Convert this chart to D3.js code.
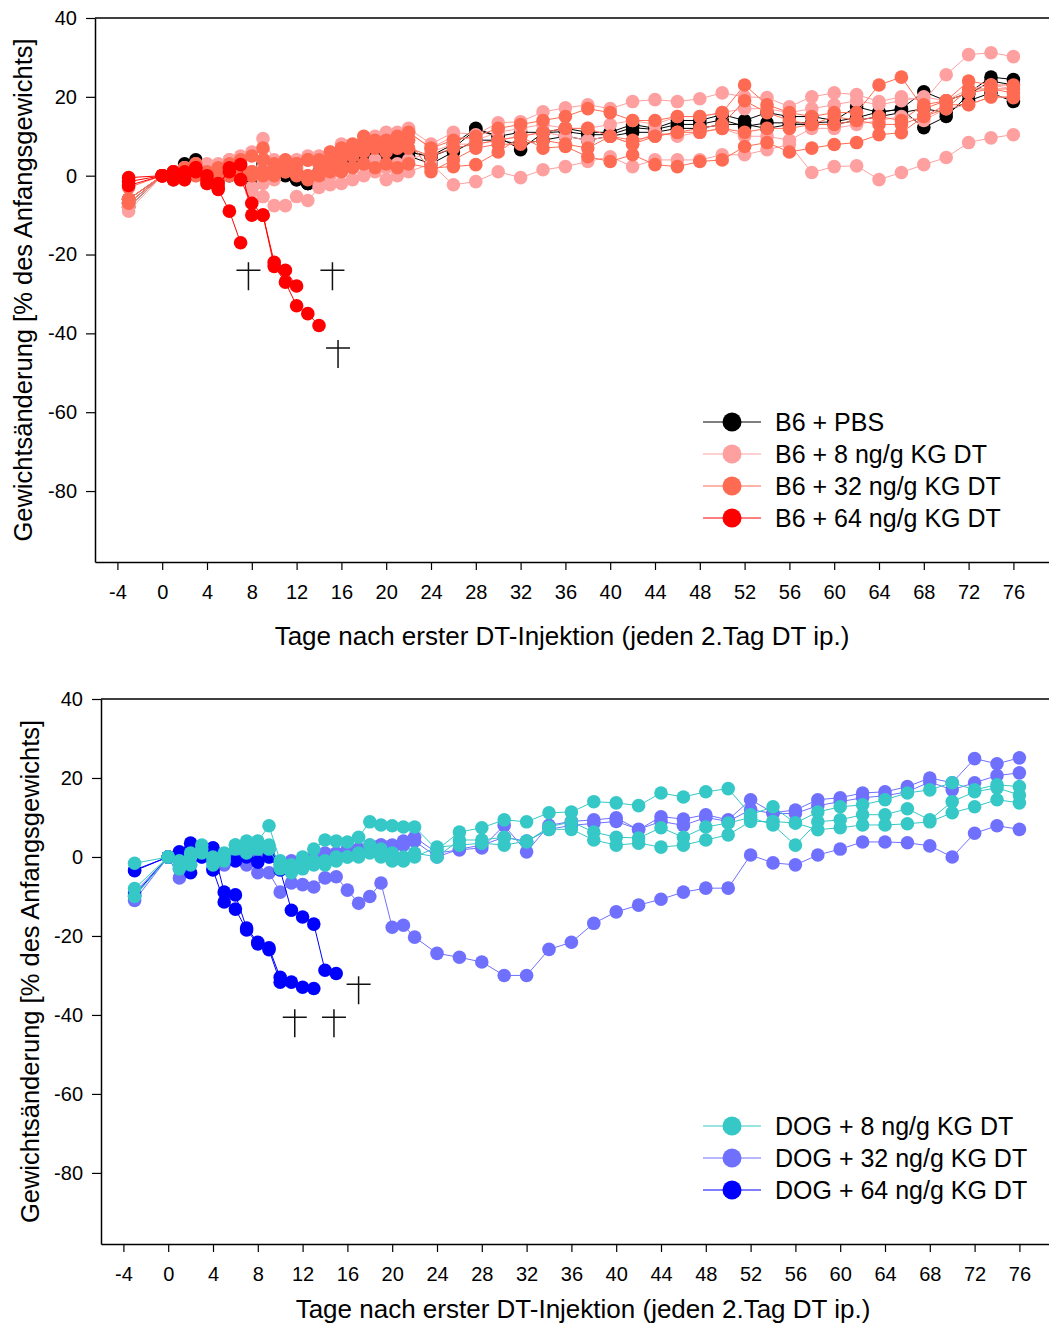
<!DOCTYPE html>
<html>
<head>
<meta charset="utf-8">
<script src="https://cdn.jsdelivr.net/npm/d3@7"></script>
<style>
  body { margin: 0; background: #fff; }
  svg { display: block; font-family: Arial, 'Liberation Sans', sans-serif; }
</style>
</head>
<body>
<svg width="1049" height="1324"></svg>
<script>
'use strict';

// measurement days: day -3, daily 0..22, then every 2nd day up to 76
const days = [-3,
  0, 1, 2, 3, 4, 5, 6, 7, 8, 9,
  10, 11, 12, 13, 14, 15, 16, 17, 18, 19, 20, 21, 22,
  24, 26, 28, 30, 32, 34, 36, 38, 40, 42, 44, 46, 48, 50,
  52, 54, 56, 58, 60, 62, 64, 66, 68, 70, 72, 74, 76];

const x_ticks = [-4, 0, 4, 8, 12, 16, 20, 24, 28, 32, 36, 40, 44, 48, 52, 56, 60, 64, 68, 72, 76];
const y_ticks = [40, 20, 0, -20, -40, -60, -80];

// weight change in % per mouse (one array per mouse, aligned with days)
const b6_pbs = [
  [-8, 0, 1, 2, 4, 1, 0, 1, 2, -2, 3,
   1, 2, 0, -2, 1, 5, 5, 4, 5, 5, 5, 6, 6,
   5, 8, 12, 10, 11, 11, 12, 11, 11, 13, 12, 14, 14, 15.5,
   14, 16, 15, 15, 14, 17.5, 16, 17, 21.3, 19, 21, 25, 24.4],
  [-7, 0, 0, 3, 3, 2, 1, 0, 1, -3, 2,
   0, 1, -1, -2, -1, 2, 3, 3, 4, 5, 4, 5, 6,
   4.8, 7, 11.7, 9.9, 6.6, 10.9, 11.2, 10.4, 10.4, 12.2, 11.7, 13, 13, 14.2,
   12.5, 13.4, 13.4, 13.4, 13.7, 14.7, 16.2, 16.8, 12.2, 15, 20.6, 24, 23],
  [-6, 0, -1, 1, 2, 0, -1, 1, 0, -2, 1,
   0, 0, -1, -2, 0, 1, 2, 3, 3, 4, 4, 5, 5,
   3, 6, 9, 9, 8, 9, 10, 9, 10, 11, 11, 12, 12, 13,
   13, 12, 13, 13, 13, 14, 15, 16, 17, 16, 19, 21, 18.8]
];

const b6_dt8 = [
  [-9, 0, 1, 2, 2, 3, 2, 4, 5, 6, 9.4,
   4, 3, 4, 5, 5, 6, 8, 7, 9, 10, 11, 11, 12,
   8, 11, 10.4, 13.4, 13.7, 16.2, 17.2, 18, 17, 18.8, 19.3, 18.8, 19.5, 21,
   20, 19.8, 17.5, 20, 21, 20.6, 18.8, 20, 19, 25.6, 30.7, 31.2, 30.2],
  [-8, 0, -1, 1, 0, -1, 0, 1, 0, -3, -5.3,
   -7.6, -7.6, -5.3, -6.3, -3, -2.3, -2, -1, 0, 1, -1, 0, 1,
   3, -2.3, -1.5, 1, -0.5, 1.5, 2.3, 3.6, 4.8, 2.3, 4, 4, 4, 5.3,
   5.3, 6.6, 7.9, 0.8, 2.3, 2.5, -1, 0.8, 2.8, 4.6, 8.4, 9.6, 10.4],
  [-7, 0, 0, 2, 3, 1, 3, 4, 3, 1, 2,
   2, 3, 2, 4, 3, 5, 6, 5, 8, 9, 9, 10, 11,
   7, 10, 9, 11, 12, 13, 12, 12, 13, 14, 13, 15, 15, 16,
   17, 17, 16, 17, 18, 19, 18, 19, 20, 19, 22, 23, 22],
  [-6, 0, 1, 1, 2, 0, 1, 2, -1, -4, -2,
   -1, 1, 2, 0, -2, 0, 1, 2, 3, 4, 2, 3, 4,
   6, 8, 8, 9, 10, 11, 10, 9, 10, 8, 11, 10, 11, 12,
   10, 10, 9, 12, 12, 13, 14, 15, 14, 17, 18, 20, 20]
];

const b6_dt32 = [
  [-6, 0, 1, 2, 3, 1, 2, 3, 4, 5, 7,
   3, 4, 3, 4, 4, 6, 7, 8, 10, 9, 9, 10, 11,
   7, 9, 10, 12, 13, 14, 15, 17, 16, 14, 14, 15, 15, 16,
   23, 18, 16, 15, 16, 16, 23, 25, 17, 19, 24, 23, 23],
  [-7, 0, 0, 1, 2, 0, 1, 2, 1, 0, 1,
   1, 2, 1, 0, 1, 2, 3, 5, 6, 7, 6, 7, 7,
   5, 7, 8, 9, 10, 11, 12, 12, 10, 9, 10, 11, 12, 13,
   19, 16, 14, 13, 15, 14, 13, 13, 15, 17, 22, 22, 22],
  [-3, 0, 1, -1, 0, -1, 0, 1, 2, 1, 0,
   0, 1, 0, -1, 0, 1, 1, 2, 3, 2, 3, 2, 3,
   2, 2.3, 2.8, 6, 9.9, 7, 7.4, 4.8, 3.6, 5.3, 2.8, 2.3, 3.6, 4,
   7.4, 8.4, 6, 7, 7.9, 8.4, 10.4, 10.9, 15, 18, 18, 20, 19.8],
  [-6, 0, 0, 1, 1, -2, -1, 0, 2, 0, 4,
   2, 2, 3, 4, 3, 4, 5, 6, 8, 8, 7, 8, 9,
   1, 4, 7, 8, 8, 9, 8, 7, 10, 8, 10, 11, 11, 12,
   11, 12, 12, 13, 13, 14, 15, 14, 18, 19, 21, 22, 21]
];

const b6_dt64 = [
  [-0.5, 0, -1, 1, 2, -2, -3.5, -9, -17],
  [-1.5, 0, 0, -1, 1, -1, -2, 1, -1, -7, -10, -22, -24, -28],
  [-2.5, 0, 1, 0, 2, 0, -3, 2, 2.8, -10, -10, -23, -27, -33, -35, -38]
];

const dog_dt8 = [
  [-1.6, 0, -2, 1, 3, -1, 0, 3, 4, 4, 7.9,
   -1, -2, 0, 2, 4.3, 4, 3.8, 5, 8.9, 8.1, 7.9, 7.6, 7.6,
   1.8, 6.3, 7.4, 9.4, 8.9, 11.2, 11.4, 14, 13.7, 13, 16.2, 15.2, 16.5, 17.3,
   10.7, 12.7, 8.6, 11.4, 12.7, 13.2, 14.5, 16.2, 17, 18.8, 17, 18.3, 17.8],
  [-8, 0, -1, 0, 2, 0, 1, 3, 3, 2, 3,
   -2, -3, -1, -1, -2, 0, 0, 1, 3, 2, 1, 0, 1,
   0, 4.3, 4.3, 5, 3.8, 7.6, 8.9, 6.3, 5, 4.8, 7.4, 5, 7.6, 8.6,
   10, 8.1, 3, 8.9, 9.4, 10.7, 10.7, 12.2, 9.4, 14, 16.5, 17.5, 15.7],
  [-10, 0, -3, -2, 1, -2, -1, 2, 1, 3, 2,
   -3, -4, -3, -2, -1, -1, 0, 0, 1, 0, -1, -1, 0,
   2.5, 3, 3.5, 3, 4, 7, 7, 4.3, 3, 3.5, 2.5, 3, 4.3, 5.6,
   9, 9, 8.6, 6.9, 7.4, 8.1, 8.1, 8.4, 8.9, 11.2, 12.7, 14.5, 13.7]
];

const dog_dt32 = [
  [-11, 0, -5.3, -2, 0, -3, -2, 0, -2, -4, -4,
   -8.9, -6.6, -7, -7.6, -5.3, -5, -8.4, -11.7, -10, -6.6, -17.8, -17.3, -20.3,
   -24.4, -25.4, -26.6, -30, -30, -23.4, -21.6, -16.8, -13.9, -12.2, -10.7, -8.9, -7.9, -7.9,
   0.5, -1.5, -2, 0.5, 2, 3.8, 3.8, 3.6, 2.8, 0, 6, 7.9, 7],
  [-10, 0, -3, 1, 2, -1, 0, 2, 1, 0, 2,
   -2, -1, -1, 0, 1, 1, 2, 2, 3, 3, 3, 4, 5,
   1, 1.8, 2.3, 8, 1.3, 8, 9, 9.4, 9.9, 6.9, 10.2, 9.6, 10.7, 9.4,
   14.5, 11.2, 11.9, 14.5, 15, 16.2, 16.5, 17.8, 20, 18.8, 24.9, 23.6, 25.1],
  [-9, 0, -2, 0, 1, -3, -1, 1, 0, -1, 0,
   -3, -2, -2, -1, 0, 0, 1, 2, 2, 3, 2, 3, 4,
   0, 2, 3, 5, 4, 7, 8, 8.5, 9, 7, 9, 8, 10, 9,
   12, 11, 11, 13, 14, 15, 15.5, 16.5, 19, 17, 18.8, 20.6, 21.3]
];

const dog_dt64 = [
  [-3.3, 0, 1.3, 3.5, 1, 2.3, -8.9, -9.6, -18, -21.6, -23, -30.5, -31.7, -33, -33.3],
  [-9.6, 0, 0, -4, 2, -3.3, -11.4, -13.2, -18.5, -22, -23.5, -31.7],
  [-3.5, 0, 0, 2, 0, 1, 0, -1, 0, -1.3, 0, -3.3, -13.5, -15.2, -17, -28.7, -29.5]
];

// deaths (day, %)
const top_deaths = [[7.7, -24], [15.2, -24], [15.7, -43.7]];
const bottom_deaths = [[11.3, -40.6], [14.8, -40.6], [17, -32.2]];

const x_title = 'Tage nach erster DT-Injektion (jeden 2.Tag DT ip.)';
const y_title = 'Gewichtsänderung [% des Anfangsgewichts]';

const svg = d3.select('svg');

const panels = [
  {
    left: 95, top: 18, bottom: 562, xTitleX: 562, xTitleY: 645, yTitleX: 32,
    legendY: 422, deaths: top_deaths,
    groups: [
      {name: 'B6 + PBS', color: '#000000', line: '#000000', mice: b6_pbs},
      {name: 'B6 + 8 ng/g KG DT', color: '#ffa0a0', line: '#ffa0a0', mice: b6_dt8},
      {name: 'B6 + 32 ng/g KG DT', color: '#ff6a52', line: '#ff6a52', mice: b6_dt32},
      {name: 'B6 + 64 ng/g KG DT', color: '#ff0000', line: '#ff0000', mice: b6_dt64}
    ]
  },
  {
    left: 101, top: 699, bottom: 1244, xTitleX: 583, xTitleY: 1318, yTitleX: 39,
    legendY: 1126, deaths: bottom_deaths,
    groups: [
      {name: 'DOG + 32 ng/g KG DT', color: '#7070ff', line: '#7070ff', mice: dog_dt32, order: 1},
      {name: 'DOG + 64 ng/g KG DT', color: '#0000ff', line: '#0000ff', mice: dog_dt64, order: 2},
      {name: 'DOG + 8 ng/g KG DT', color: '#35c8c6', line: '#35c8c6', mice: dog_dt8, order: 0}
    ]
  }
];

function drawPanel(p) {
  const x = d3.scaleLinear().domain([-6, 80]).range([p.left, p.left + 86 * 11.2]);
  const y = d3.scaleLinear().domain([-98, 40]).range([p.bottom, p.top]);
  const g = svg.append('g');

  //top frame line
  g.append('line').attr('x1', p.left).attr('x2', x.range()[1])
    .attr('y1', p.top).attr('y2', p.top).attr('stroke', '#000').attr('stroke-width', 1.5);

  //bottom axis
  const xa = g.append('g')
    .attr('transform', `translate(0,${p.bottom})`)
    .call(d3.axisBottom(x).tickValues(x_ticks).tickFormat(d => String(d))
      .tickSize(8).tickSizeOuter(0).tickPadding(15));
  //left axis
  const ya = g.append('g')
    .attr('transform', `translate(${p.left},0)`)
    .call(d3.axisLeft(y).tickValues(y_ticks).tickFormat(d => String(d))
      .tickSize(9).tickSizeOuter(0).tickPadding(9));
  [xa, ya].forEach(a => {
    a.attr('font-size', 20).attr('font-family', null);
    a.select('.domain').attr('stroke-width', 1.5);
    a.selectAll('.tick line').attr('stroke-width', 1.2);
    a.selectAll('.tick text').attr('fill', '#000');
  });

  //axis titles
  g.append('text')
    .attr('x', p.xTitleX).attr('y', p.xTitleY)
    .attr('text-anchor', 'middle').attr('font-size', 26)
    .text(x_title);
  g.append('text')
    .attr('transform', `translate(${p.yTitleX},${(p.top + p.bottom) / 2}) rotate(-90)`)
    .attr('text-anchor', 'middle').attr('font-size', 25.5)
    .text(y_title);

  //mice lines and dots
  const line = d3.line().x(d => x(d[0])).y(d => y(d[1]));
  p.groups.forEach(grp => {
    const mg = g.append('g');
    grp.mice.forEach(vals => {
      const pts = days.map((d, i) => [d, vals[i]]).filter(d => d[1] != null);
      mg.append('path').datum(pts)
        .attr('d', line)
        .attr('fill', 'none')
        .attr('stroke', grp.line)
        .attr('stroke-width', 1);
      mg.selectAll(null).data(pts).enter()
        .append('circle')
        .attr('cx', d => x(d[0]))
        .attr('cy', d => y(d[1]))
        .attr('r', 6.8)
        .attr('fill', grp.color);
    });
  });

  //death crosses
  g.selectAll(null).data(p.deaths).enter()
    .append('path')
    .attr('d', d => {
      const cx = x(d[0]), cy = y(d[1]);
      return `M${cx - 12},${cy}H${cx + 12}M${cx},${cy - 8}V${cy + 20}`;
    })
    .attr('stroke', '#111').attr('stroke-width', 1.5).attr('fill', 'none');

  //legend
  const legendItems = p.groups.slice().sort((a, b) => (a.order || 0) - (b.order || 0));
  const legend = g.append('g')
    .selectAll('g').data(legendItems).enter()
    .append('g')
    .attr('transform', (d, i) => `translate(0,${p.legendY + i * 32})`);
  legend.append('line')
    .attr('x1', 703).attr('x2', 761)
    .attr('stroke', d => d.line).attr('stroke-width', 1);
  legend.append('circle')
    .attr('cx', 732).attr('r', 9.5)
    .attr('fill', d => d.color);
  legend.append('text')
    .attr('x', 775).attr('dy', '0.35em')
    .attr('font-size', 25)
    .text(d => d.name);
}

panels.forEach(drawPanel);
</script>
</body>
</html>
